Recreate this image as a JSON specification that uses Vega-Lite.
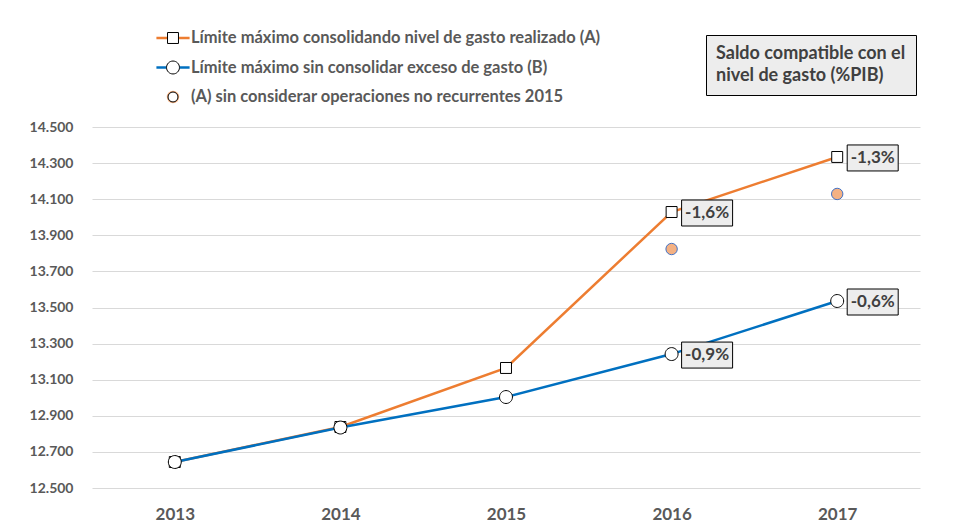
{
  "$schema": "https://vega.github.io/schema/vega-lite/v6.json",
  "width": 828,
  "height": 361,
  "autosize": "none",
  "padding": {"left": 92, "top": 127, "right": 43, "bottom": 40},
  "background": "white",
  "config": {"font": "Lato", "view": {"stroke": null}},
  "data": {
    "values": [
      {"year": "2013", "tipo": "A", "serie": "Límite máximo consolidando nivel de gasto realizado (A)", "value": 12644},
      {"year": "2014", "tipo": "A", "serie": "Límite máximo consolidando nivel de gasto realizado (A)", "value": 12838},
      {"year": "2015", "tipo": "A", "serie": "Límite máximo consolidando nivel de gasto realizado (A)", "value": 13165},
      {"year": "2016", "tipo": "A", "serie": "Límite máximo consolidando nivel de gasto realizado (A)", "value": 14029, "saldo": "-1,6%"},
      {"year": "2017", "tipo": "A", "serie": "Límite máximo consolidando nivel de gasto realizado (A)", "value": 14334, "saldo": "-1,3%"},
      {"year": "2013", "tipo": "B", "serie": "Límite máximo sin consolidar exceso de gasto (B)", "value": 12644},
      {"year": "2014", "tipo": "B", "serie": "Límite máximo sin consolidar exceso de gasto (B)", "value": 12835},
      {"year": "2015", "tipo": "B", "serie": "Límite máximo sin consolidar exceso de gasto (B)", "value": 13004},
      {"year": "2016", "tipo": "B", "serie": "Límite máximo sin consolidar exceso de gasto (B)", "value": 13242, "saldo": "-0,9%"},
      {"year": "2017", "tipo": "B", "serie": "Límite máximo sin consolidar exceso de gasto (B)", "value": 13536, "saldo": "-0,6%"},
      {"year": "2016", "tipo": "C", "serie": "(A) sin considerar operaciones no recurrentes 2015", "value": 13824},
      {"year": "2017", "tipo": "C", "serie": "(A) sin considerar operaciones no recurrentes 2015", "value": 14129}
    ]
  },
  "encoding": {
    "x": {
      "field": "year", "type": "ordinal",
      "scale": {"type": "point", "padding": 0.5},
      "axis": {"title": null, "labelAngle": 0, "domain": false, "ticks": false, "grid": false,
               "labelFont": "Lato", "labelFontSize": 17, "labelFontWeight": "bold", "labelColor": "#595959", "labelPadding": 18}
    },
    "y": {
      "field": "value", "type": "quantitative",
      "scale": {"domain": [12500, 14500], "nice": false, "zero": false},
      "axis": {"title": null, "domain": false, "ticks": false, "gridColor": "#D9D9D9", "gridWidth": 1,
               "values": [12500, 12700, 12900, 13100, 13300, 13500, 13700, 13900, 14100, 14300, 14500],
               "labelExpr": "replace(format(datum.value, ',.0f'), ',', '.')",
               "labelFont": "Lato", "labelFontSize": 14, "labelFontWeight": "bold", "labelColor": "#595959", "labelPadding": 19}
    }
  },
  "layer": [
    {
      "transform": [{"filter": "datum.tipo === 'C'"}],
      "mark": {"type": "point", "filled": true, "fill": "#F4B183", "stroke": "#4472C4", "strokeWidth": 1, "size": 130, "opacity": 1},
      "encoding": {
        "fillOpacity": {
          "field": "year", "type": "ordinal",
          "scale": {"range": [1, 1]},
          "legend": {
            "orient": "none", "legendX": -84, "legendY": -116,
            "title": " ", "titleFontSize": 1, "values": [],
            "fillColor": "transparent", "strokeColor": "#D9D9D9", "padding": 700, "zindex": 0
          }
        }
      }
    },
    {
      "transform": [{"filter": "datum.tipo !== 'C'"}],
      "mark": {"type": "line", "strokeWidth": 2.5},
      "encoding": {
        "color": {
          "field": "serie", "type": "nominal",
          "scale": {
            "domain": ["Límite máximo consolidando nivel de gasto realizado (A)", "Límite máximo sin consolidar exceso de gasto (B)", "(A) sin considerar operaciones no recurrentes 2015"],
            "range": ["#ED7D31", "#0070C0", "#F4B183"]
          },
          "legend": {
            "orient": "none", "legendX": 63, "legendY": -99, "title": null,
            "symbolType": "stroke", "symbolSize": 1100, "symbolStrokeWidth": 2.5,
            "labelFont": "Lato", "labelFontSize": 16.5, "labelFontWeight": "bold", "labelColor": "#595959",
            "labelOffset": 0, "clipHeight": 20, "rowPadding": 9.5, "padding": 0, "labelLimit": 700,
            "encode": {"symbols": {"update": {
              "shape": {"signal": "datum.index === 2 ? 'M-0.3,0A0.3,0.3,0,1,0,0.3,0A0.3,0.3,0,1,0,-0.3,0Z' : 'stroke'"},
              "fill": {"signal": "datum.index === 2 ? '#F4B183' : 'transparent'"},
              "stroke": {"signal": "datum.index === 0 ? '#ED7D31' : datum.index === 1 ? '#0070C0' : 'transparent'"},
              "opacity": {"value": 1}
            }}}
          }
        }
      }
    },
    {
      "transform": [{"filter": "datum.tipo !== 'C'"}],
      "mark": {"type": "point", "filled": false, "fill": "white", "stroke": "black", "strokeWidth": 1, "opacity": 1, "size": 1100},
      "encoding": {
        "shape": {
          "field": "tipo", "type": "nominal",
          "scale": {
            "domain": ["A", "B", "C"],
            "range": ["M-0.33,-0.33H0.33V0.33H-0.33Z", "M-0.39,0A0.39,0.39,0,1,0,0.39,0A0.39,0.39,0,1,0,-0.39,0Z", "M-0.3,0A0.3,0.3,0,1,0,0.3,0A0.3,0.3,0,1,0,-0.3,0Z"]
          },
          "legend": {
            "orient": "none", "legendX": 63.5, "legendY": -99, "title": null,
            "symbolSize": 1100, "symbolStrokeWidth": 1,
            "labelFont": "Lato", "labelFontSize": 16.5, "labelFontWeight": "bold", "labelExpr": "''",
            "labelOffset": 0, "clipHeight": 20, "rowPadding": 9.5, "padding": 0, "labelLimit": 700,
            "encode": {"symbols": {"update": {
              "fill": {"signal": "datum.index === 2 ? 'transparent' : 'white'"},
              "stroke": {"signal": "datum.index === 2 ? '#4472C4' : 'black'"},
              "opacity": {"value": 1}
            }}}
          }
        }
      }
    },
    {
      "transform": [{"filter": "isValid(datum.saldo)"}],
      "mark": {"type": "rect", "fill": "#EDEDED", "stroke": "black", "strokeWidth": 1,
               "xOffset": 10, "x2Offset": 61, "yOffset": -12, "y2Offset": 14},
      "encoding": {"x2": {"field": "year"}, "y2": {"field": "value"}}
    },
    {
      "transform": [{"filter": "isValid(datum.saldo)"}],
      "mark": {"type": "text", "align": "center", "baseline": "middle", "dx": 35.5, "dy": 1,
               "font": "Lato", "fontSize": 17, "fontWeight": "bold", "color": "#404040"},
      "encoding": {
        "text": {"field": "saldo"},
        "opacity": {
          "field": "saldo", "type": "nominal",
          "scale": {"range": [1, 1, 1, 1]},
          "legend": {
            "orient": "none", "legendX": 614, "legendY": -92,
            "title": ["Saldo compatible con el", "nivel de gasto (%PIB)"],
            "titleFont": "Lato", "titleFontSize": 18, "titleFontWeight": "bold", "titleColor": "#404040",
            "titleLineHeight": 22, "titleLimit": 400, "titlePadding": 0,
            "values": [],
            "fillColor": "#EDEDED", "strokeColor": "black", "padding": 10
          }
        }
      }
    }
  ]
}
